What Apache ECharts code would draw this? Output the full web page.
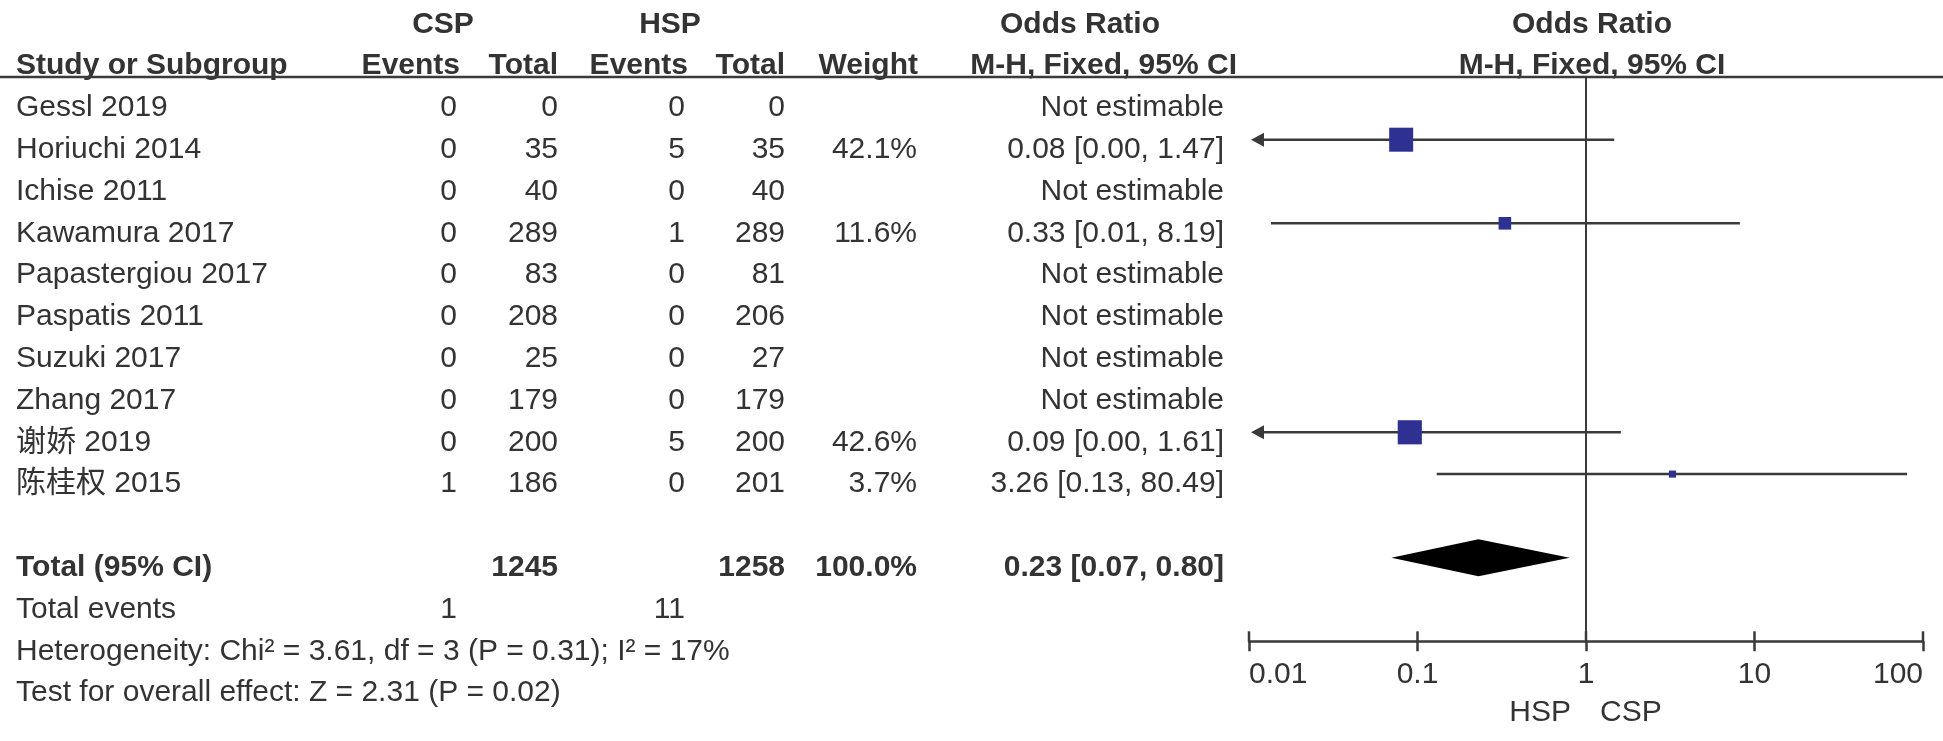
<!DOCTYPE html>
<html>
<head>
<meta charset="utf-8">
<script src="https://cdn.jsdelivr.net/npm/echarts@6/dist/echarts.min.js"></script>
<style>html,body{margin:0;padding:0;background:#fff;}#main{width:1943px;height:741px;}</style>
</head>
<body>
<div id="main"></div>
<script>
// ---------- data ----------
const studies   = ['Gessl 2019','Horiuchi 2014','Ichise 2011','Kawamura 2017','Papastergiou 2017','Paspatis 2011','Suzuki 2017','Zhang 2017','谢娇 2019','陈桂权 2015'];
const cspEvents = [0,0,0,0,0,0,0,0,0,1];
const cspTotal  = [0,35,40,289,83,208,25,179,200,186];
const hspEvents = [0,5,0,1,0,0,0,0,5,0];
const hspTotal  = [0,35,40,289,81,206,27,179,200,201];
const weights   = [null,42.1,null,11.6,null,null,null,null,42.6,3.7];
const orValues  = [null,0.08,null,0.33,null,null,null,null,0.09,3.26];
const ciLower   = [null,0.00,null,0.0135,null,null,null,null,0.00,0.13];
const ciUpper   = [null,1.47,null,8.19,null,null,null,null,1.61,80.49];
const totalLabel = 'Total (95% CI)';
const totalCsp = 1245, totalHsp = 1258, totalWeight = 100.0;
const totalOR = 0.23, totalLower = 0.07, totalUpper = 0.80;
const totalEventsCsp = 1, totalEventsHsp = 11;
const heterogeneityText = 'Heterogeneity: Chi² = 3.61, df = 3 (P = 0.31); I² = 17%';
const overallText = 'Test for overall effect: Z = 2.31 (P = 0.02)';
const axisTicks = [0.01, 0.1, 1, 10, 100];
const favoursLeft = 'HSP', favoursRight = 'CSP';

// ---------- layout ----------
const FONT = "'Liberation Sans', Arial, 'Noto Sans CJK SC', sans-serif";
const FS = 30;
const TXT = '#333333';
const LINE = '#3a3a3a';
const colX = {study:16, cspEv:457, cspTot:558, hspEv:685, hspTot:785, weight:917, or:1224,
              cspHead:443, hspHead:670, cspEvHead:460, hspEvHead:688, weightHead:918, orHead:1237, orGroup:1080, plotHead:1592};

const fmt2 = v => v.toFixed(2);
const cells = [];
function cell(x, row, text, align, bold){ cells.push({x, row, text:String(text), align, bold:!!bold}); }
// headers
cell(colX.cspHead, -2, 'CSP', 'center', true);
cell(colX.hspHead, -2, 'HSP', 'center', true);
cell(colX.orGroup, -2, 'Odds Ratio', 'center', true);
cell(colX.plotHead, -2, 'Odds Ratio', 'center', true);
cell(colX.study, -1, 'Study or Subgroup', 'left', true);
cell(colX.cspEvHead, -1, 'Events', 'right', true);
cell(colX.cspTot, -1, 'Total', 'right', true);
cell(colX.hspEvHead, -1, 'Events', 'right', true);
cell(colX.hspTot, -1, 'Total', 'right', true);
cell(colX.weightHead, -1, 'Weight', 'right', true);
cell(colX.orHead, -1, 'M-H, Fixed, 95% CI', 'right', true);
cell(colX.plotHead, -1, 'M-H, Fixed, 95% CI', 'center', true);
// study rows
studies.forEach((s, i) => {
  cell(colX.study, i, s, 'left');
  cell(colX.cspEv, i, cspEvents[i], 'right');
  cell(colX.cspTot, i, cspTotal[i], 'right');
  cell(colX.hspEv, i, hspEvents[i], 'right');
  cell(colX.hspTot, i, hspTotal[i], 'right');
  if (weights[i] != null) cell(colX.weight, i, weights[i].toFixed(1) + '%', 'right');
  cell(colX.or, i, orValues[i] == null ? 'Not estimable'
       : fmt2(orValues[i]) + ' [' + fmt2(ciLower[i]) + ', ' + fmt2(ciUpper[i]) + ']', 'right');
});
const totalRow = studies.length + 1;
cell(colX.study, totalRow, totalLabel, 'left', true);
cell(colX.cspTot, totalRow, totalCsp, 'right', true);
cell(colX.hspTot, totalRow, totalHsp, 'right', true);
cell(colX.weight, totalRow, totalWeight.toFixed(1) + '%', 'right', true);
cell(colX.or, totalRow, fmt2(totalOR) + ' [' + fmt2(totalLower) + ', ' + fmt2(totalUpper) + ']', 'right', true);
cell(colX.study, totalRow + 1, 'Total events', 'left');
cell(colX.cspEv, totalRow + 1, totalEventsCsp, 'right');
cell(colX.hspEv, totalRow + 1, totalEventsHsp, 'right');
cell(colX.study, totalRow + 2, heterogeneityText, 'left');
cell(colX.study, totalRow + 3, overallText, 'left');

const forestData = [];
studies.forEach((s, i) => { if (orValues[i] != null) forestData.push([i, orValues[i], ciLower[i], ciUpper[i], weights[i]]); });
const AXMIN = axisTicks[0], AXMAX = axisTicks[axisTicks.length - 1];
const Y_MIN = -0.5, Y_MAX = 13;

const chart = echarts.init(document.getElementById('main'), null, {renderer:'canvas'});
chart.setOption({
  backgroundColor:'#fff',
  animation:false,
  grid:[
    {left:0, right:0, top:3.5, height:731.5},
    {left:1249, right:20, top:77, height:564.3}
  ],
  xAxis:[
    {gridIndex:0, type:'value', min:0, max:1943, show:false},
    {gridIndex:1, type:'log', logBase:10, min:AXMIN, max:AXMAX, position:'bottom',
     axisLine:{show:true, onZero:false, lineStyle:{color:LINE, width:2.5}},
     axisTick:{show:true, length:10, inside:false, lineStyle:{color:LINE, width:2.5}},
     splitLine:{show:false},
     axisLabel:{show:true, margin:18, color:TXT, fontSize:FS, fontFamily:FONT,
                alignMinLabel:'left', alignMaxLabel:'right', showMinLabel:true, showMaxLabel:true,
                formatter:v => String(+(+v).toPrecision(2))}}
  ],
  yAxis:[
    {gridIndex:0, type:'value', min:-2.5, max:15, inverse:true, show:false},
    {gridIndex:1, type:'value', min:Y_MIN, max:Y_MAX, inverse:true, show:false}
  ],
  graphic:[
    {type:'line', shape:{x1:0, y1:77, x2:1943, y2:77}, style:{stroke:LINE, lineWidth:2.5}, z:10},
    {type:'text', x:1571, y:713, style:{text:favoursLeft, fill:TXT, font:FS + 'px ' + FONT, textAlign:'right', textVerticalAlign:'middle'}},
    {type:'text', x:1600, y:713, style:{text:favoursRight, fill:TXT, font:FS + 'px ' + FONT, textAlign:'left', textVerticalAlign:'middle'}}
  ],
  series:[
    {
      type:'custom', xAxisIndex:0, yAxisIndex:0, silent:true,
      encode:{x:0, y:1},
      data:cells.map(c => [c.x, c.row]),
      renderItem:(params, api) => {
        const c = cells[params.dataIndex];
        const p = api.coord([api.value(0), api.value(1)]);
        return {type:'text', x:p[0], y:p[1], style:{text:c.text, fill:TXT,
          font:(c.bold ? 'bold ' : '') + FS + 'px ' + FONT, textAlign:c.align, textVerticalAlign:'middle'}};
      }
    },
    {
      // upper half of the axis ticks (ticks cross the axis line)
      type:'custom', xAxisIndex:1, yAxisIndex:1, silent:true, clip:false,
      encode:{x:0, y:1},
      data:axisTicks.map(v => [v, Y_MAX]),
      renderItem:(params, api) => {
        const p = api.coord([api.value(0), api.value(1)]);
        return {type:'line', shape:{x1:p[0], y1:p[1] - 10, x2:p[0], y2:p[1]}, style:{stroke:LINE, lineWidth:2.5}};
      }
    },
    {
      type:'custom', xAxisIndex:1, yAxisIndex:1, silent:true, clip:false,
      encode:{x:1, y:0},
      data:forestData,
      renderItem:(params, api) => {
        const row = api.value(0), or = api.value(1), lo = api.value(2), hi = api.value(3), w = api.value(4);
        const arrowLeft = lo < AXMIN;
        const pL = api.coord([Math.max(lo, AXMIN), row]);
        const pH = api.coord([Math.min(hi, AXMAX), row]);
        const pC = api.coord([or, row]);
        const size = 3.7 * Math.sqrt(w);
        const children = [
          {type:'line', shape:{x1:pL[0] + (arrowLeft ? 8 : 0), y1:pL[1], x2:pH[0], y2:pH[1]}, style:{stroke:LINE, lineWidth:2.5}},
          {type:'rect', shape:{x:pC[0] - size/2, y:pC[1] - size/2, width:size, height:size}, style:{fill:'#2e3192'}}
        ];
        if (arrowLeft) children.push({type:'polygon', shape:{points:[[pL[0] + 2, pL[1]], [pL[0] + 15, pL[1] - 7], [pL[0] + 15, pL[1] + 7]]}, style:{fill:LINE}});
        return {type:'group', children};
      },
      markLine:{silent:true, symbol:['none','none'], label:{show:false},
        lineStyle:{color:LINE, width:2, type:'solid'}, data:[{xAxis:1}]}
    },
    {
      type:'custom', xAxisIndex:1, yAxisIndex:1, silent:true,
      encode:{x:1, y:0},
      data:[[totalRow, totalOR, totalLower, totalUpper]],
      renderItem:(params, api) => {
        const row = api.value(0);
        const pL = api.coord([api.value(2), row]), pH = api.coord([api.value(3), row]), pC = api.coord([api.value(1), row]);
        const h = 18.5;
        return {type:'polygon', shape:{points:[[pL[0], pL[1]], [pC[0], pC[1] - h], [pH[0], pH[1]], [pC[0], pC[1] + h]]}, style:{fill:'#000'}};
      }
    }
  ]
});
</script>
</body>
</html>
